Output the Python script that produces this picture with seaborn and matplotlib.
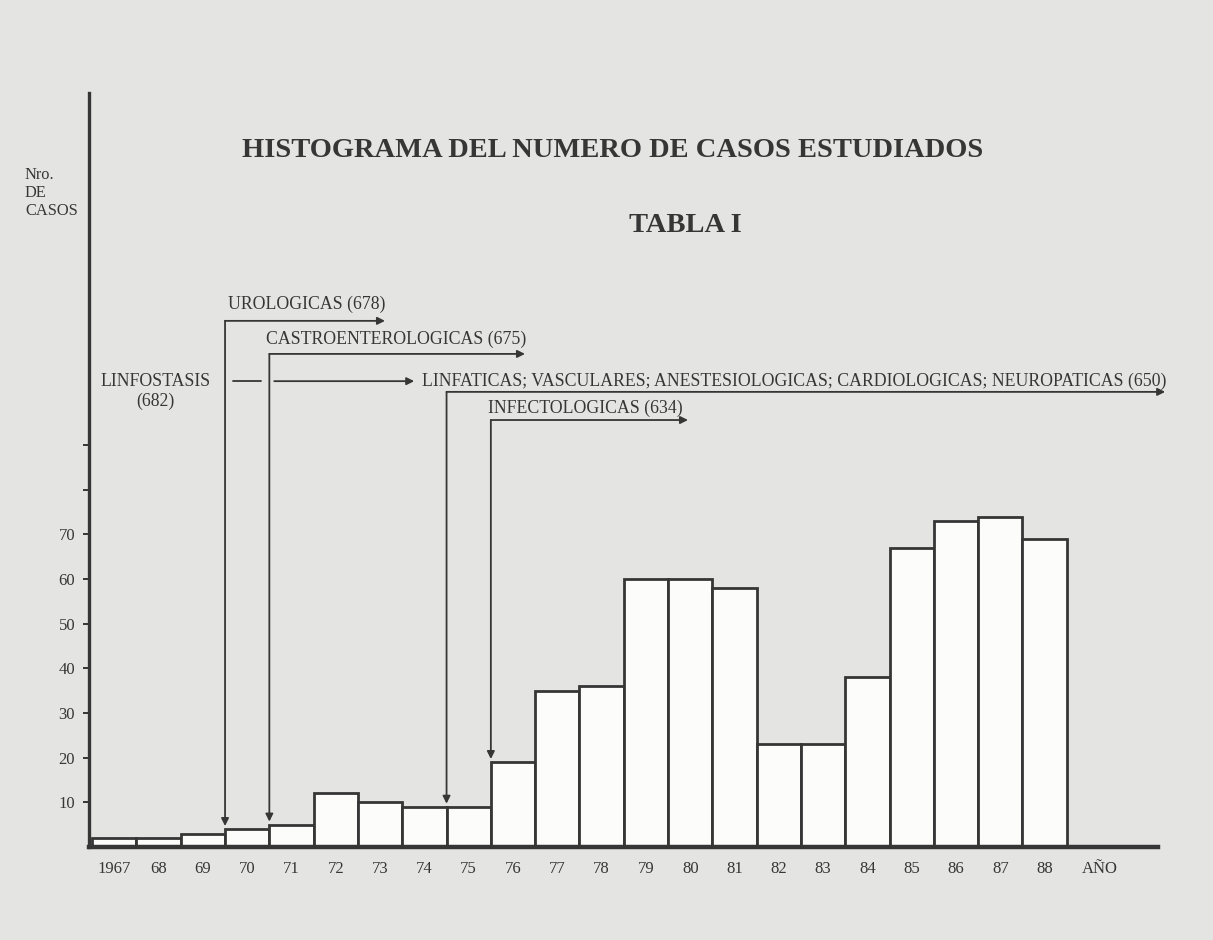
import matplotlib
matplotlib.use("Agg")
import matplotlib.pyplot as plt
import seaborn as sns
import pandas as pd

anios = ["1967", "68", "69", "70", "71", "72", "73", "74", "75", "76", "77",
         "78", "79", "80", "81", "82", "83", "84", "85", "86", "87", "88"]
casos = [2, 2, 3, 4, 5, 12, 10, 9, 9, 19, 35, 36, 60, 60, 58, 23, 23, 38, 67, 73, 74, 69]
ticks_y = [10, 20, 30, 40, 50, 60, 70, 80, 90]
etiquetas_y = ["10", "20", "30", "40", "50", "60", "70", "", ""]

# grupos de consultas: texto y año (indice) en que comienzan
grupos = ["UROLOGICAS (678)", "CASTROENTEROLOGICAS (675)",
          "LINFATICAS; VASCULARES; ANESTESIOLOGICAS; CARDIOLOGICAS; NEUROPATICAS (650)",
          "INFECTOLOGICAS (634)"]
inicio_grupo = [3, 4, 8, 9]

df = pd.DataFrame({"anio": anios, "casos": casos})

sns.set_theme(style="ticks")
plt.rcParams["font.family"] = ["Liberation Serif", "DejaVu Serif"]

tinta = "#363636"
papel = "#e4e4e2"

fig = plt.figure(figsize=(12.13, 9.40), dpi=100, facecolor=papel)
ax = fig.add_axes([0.0734, 0.0989, 0.8813, 0.8021])
ax.set_facecolor(papel)

sns.barplot(data=df, x="anio", y="casos", order=anios, color="#fcfcfb",
            saturation=1, edgecolor=tinta, linewidth=2.0, width=1.0, ax=ax)

ax.set_xlim(-0.57, 23.56)
ax.set_ylim(0, 168.8)

for s in ["top", "right"]:
    ax.spines[s].set_visible(False)
ax.spines["left"].set_linewidth(2.4)
ax.spines["left"].set_color(tinta)
ax.spines["bottom"].set_linewidth(3.2)
ax.spines["bottom"].set_color(tinta)

ax.set_yticks(ticks_y)
ax.set_yticklabels(etiquetas_y)
ax.tick_params(axis="y", length=4, width=1.4, color=tinta, labelsize=12,
               labelcolor=tinta, pad=6)

ax.set_xticks(list(range(len(anios))) + [22.25])
ax.set_xticklabels(anios + ["AÑO"])
ax.tick_params(axis="x", length=0, labelsize=12, labelcolor=tinta, pad=10)
ax.set_xlabel("")
ax.set_ylabel("")

# flechas de los grupos
niveles = [117.8, 110.4, 101.9, 95.6]
finales = [6.11, 9.27, 23.72, 12.95]
alturas_texto = [121.6, 113.7, 104.3, 98.3]
desplaz_texto = [0.07, -0.07, -0.55, -0.06]
flecha = dict(arrowstyle="-|>", lw=1.3, color=tinta, shrinkA=0, shrinkB=0,
              mutation_scale=11)
for txt, i, nivel, fin, ht, dx in zip(grupos, inicio_grupo, niveles, finales,
                                      alturas_texto, desplaz_texto):
    x = i - 0.5
    punta = casos[i] + 0.7
    ax.annotate("", xy=(x, punta), xytext=(x, nivel), arrowprops=flecha,
                annotation_clip=False)
    ax.annotate("", xy=(fin, nivel), xytext=(x, nivel), arrowprops=flecha,
                annotation_clip=False)
    ax.text(x + dx, ht, txt, fontsize=12.8, color=tinta, ha="left", va="center",
            clip_on=False)

# linfostasis
ax.text(0.93, 102.0, "LINFOSTASIS\n(682)", fontsize=12.8, color=tinta,
        ha="center", va="center", linespacing=1.15)
ax.plot([2.68, 3.31], [104.3, 104.3], color=tinta, lw=1.3)
ax.annotate("", xy=(6.77, 104.3), xytext=(3.61, 104.3), arrowprops=flecha)

fig.text(0.505, 0.8404, "HISTOGRAMA DEL NUMERO DE CASOS ESTUDIADOS",
         fontsize=20.5, fontweight="bold", color=tinta, ha="center", va="center")
fig.text(0.565, 0.7606, "TABLA I", fontsize=20.5, fontweight="bold",
         color=tinta, ha="center", va="center")
fig.text(0.0206, 0.822, "Nro.\nDE\nCASOS", fontsize=11.8, color=tinta,
         ha="left", va="top", linespacing=1.15)

fig.savefig("out.png", dpi=100, facecolor=papel)
